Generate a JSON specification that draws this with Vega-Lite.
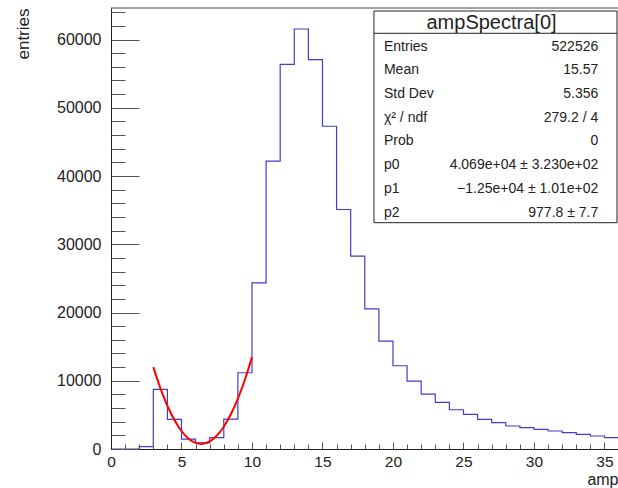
{
  "$schema": "https://vega.github.io/schema/vega-lite/v6.json",
  "width": 507,
  "height": 441,
  "autosize": {"type": "none"},
  "padding": {"left": 111, "top": 8, "right": 0, "bottom": 39},
  "background": "white",
  "view": {"stroke": null},
  "config": {"font": "Liberation Sans", "text": {"font": "Liberation Sans"}},
  "datasets": {
    "hist": [
      {"amp": 0, "entries": 0}, {"amp": 1, "entries": 0}, {"amp": 2, "entries": 350},
      {"amp": 3, "entries": 8741}, {"amp": 4, "entries": 4348}, {"amp": 5, "entries": 1440},
      {"amp": 6, "entries": 900}, {"amp": 7, "entries": 1654}, {"amp": 8, "entries": 4392},
      {"amp": 9, "entries": 11171}, {"amp": 10, "entries": 24348}, {"amp": 11, "entries": 42167},
      {"amp": 12, "entries": 56369}, {"amp": 13, "entries": 61540}, {"amp": 14, "entries": 57057},
      {"amp": 15, "entries": 47291}, {"amp": 16, "entries": 35095}, {"amp": 17, "entries": 28258},
      {"amp": 18, "entries": 20542}, {"amp": 19, "entries": 15813}, {"amp": 20, "entries": 12196},
      {"amp": 21, "entries": 9956}, {"amp": 22, "entries": 8053}, {"amp": 23, "entries": 6837},
      {"amp": 24, "entries": 5754}, {"amp": 25, "entries": 5081}, {"amp": 26, "entries": 4348},
      {"amp": 27, "entries": 3851}, {"amp": 28, "entries": 3367}, {"amp": 29, "entries": 3119},
      {"amp": 30, "entries": 2884}, {"amp": 31, "entries": 2635}, {"amp": 32, "entries": 2387},
      {"amp": 33, "entries": 2152}, {"amp": 34, "entries": 1903}, {"amp": 35, "entries": 1654},
      {"amp": 36, "entries": 1500}
    ],
    "fit": [
      {"amp": 3, "f": 11990}, {"amp": 3.5, "f": 8918}, {"amp": 4, "f": 6335}, {"amp": 4.5, "f": 4240},
      {"amp": 5, "f": 2635}, {"amp": 5.5, "f": 1518}, {"amp": 6, "f": 891}, {"amp": 6.5, "f": 752},
      {"amp": 7, "f": 1102}, {"amp": 7.5, "f": 1941}, {"amp": 8, "f": 3269}, {"amp": 8.5, "f": 5086},
      {"amp": 9, "f": 7392}, {"amp": 9.5, "f": 10186}, {"amp": 10, "f": 13470}
    ],
    "stats": [
      {"i": 1, "label": "Entries", "value": "522526"},
      {"i": 2, "label": "Mean", "value": "15.57"},
      {"i": 3, "label": "Std Dev", "value": "5.356"},
      {"i": 4, "label": "χ² / ndf", "value": "279.2 / 4"},
      {"i": 5, "label": "Prob", "value": "0"},
      {"i": 6, "label": "p0", "value": "4.069e+04 ± 3.230e+02"},
      {"i": 7, "label": "p1", "value": "−1.25e+04 ± 1.01e+02"},
      {"i": 8, "label": "p2", "value": "977.8 ± 7.7"}
    ]
  },
  "resolve": {"scale": {"y": "independent"}, "axis": {"x": "independent", "y": "independent"}},
  "layer": [
    {
      "data": {"name": "hist"},
      "mark": {"type": "line", "interpolate": "step-after", "color": "#3f3fcc", "strokeWidth": 1.2, "clip": true},
      "encoding": {
        "x": {"field": "amp", "type": "quantitative",
          "scale": {"domain": [0, 35.96], "nice": false, "zero": false},
          "axis": {"orient": "bottom", "values": [0, 5, 10, 15, 20, 25, 30, 35], "tickSize": -7, "tickColor": "#555",
            "domainColor": "#222", "labelFontSize": 15.5, "labelColor": "#222", "labelBaseline": "alphabetic",
            "labelPadding": 24.5, "labelFlush": false, "labelOverlap": false, "grid": false,
            "title": "amp", "titleFontSize": 16, "titleFontWeight": "normal", "titleColor": "#222",
            "titleAlign": "right", "titleAnchor": "end", "titleX": 507, "titleY": 35.6, "titleBaseline": "alphabetic", "zindex": 1}},
        "y": {"field": "entries", "type": "quantitative",
          "scale": {"domain": [0, 64617], "nice": false},
          "axis": {"orient": "left", "values": [0, 10000, 20000, 30000, 40000, 50000, 60000], "format": "d",
            "tickSize": -28, "tickColor": "#555", "domainColor": "#222", "labelFontSize": 16, "labelColor": "#222",
            "labelPadding": 38, "labelFlush": false, "labelOverlap": false, "grid": false,
            "title": "entries", "titleFontSize": 17, "titleFontWeight": "normal", "titleColor": "#222",
            "titleAngle": 270, "titleAlign": "right", "titleAnchor": "end", "titleX": -83, "titleY": 0, "titleBaseline": "alphabetic", "zindex": 1}}
      }
    },
    {
      "data": {"name": "fit"},
      "mark": {"type": "line", "interpolate": "natural", "color": "#ff0000", "strokeWidth": 2},
      "encoding": {
        "x": {"field": "amp", "type": "quantitative",
          "scale": {"domain": [0, 35.96], "nice": false, "zero": false},
          "axis": {"orient": "bottom", "values": [1,2,3,4,6,7,8,9,11,12,13,14,16,17,18,19,21,22,23,24,26,27,28,29,31,32,33,34],
            "tickSize": -5, "tickColor": "#555", "labels": false, "domain": false, "grid": false, "title": null, "zindex": 1}},
        "y": {"field": "f", "type": "quantitative",
          "scale": {"domain": [0, 64617], "nice": false},
          "axis": {"orient": "left", "values": [2000,4000,6000,8000,12000,14000,16000,18000,22000,24000,26000,28000,32000,34000,36000,38000,42000,44000,46000,48000,52000,54000,56000,58000,62000,64000],
            "tickSize": -14, "tickColor": "#555", "labels": false, "domain": false, "grid": false, "title": null, "zindex": 1}}
      }
    },
    {
      "data": {"values": [{"frame": "top"}]},
      "mark": {"type": "rule", "color": "#444", "strokeWidth": 1},
      "encoding": {
        "x": {"datum": 0, "type": "quantitative", "axis": null},
        "x2": {"datum": 35.96},
        "y": {"datum": 64617, "type": "quantitative", "scale": {"domain": [0, 64617], "nice": false}, "axis": null}
      }
    },
    {
      "data": {"values": [{"box": "stats"}]},
      "mark": {"type": "rect", "fill": "white", "stroke": "#222", "strokeWidth": 1},
      "encoding": {
        "x": {"datum": 18.65, "type": "quantitative", "axis": null},
        "x2": {"datum": 35.89},
        "y": {"datum": -0.506, "type": "quantitative", "scale": {"domain": [-0.633, 17.975], "nice": false, "zero": false, "reverse": true}, "axis": null},
        "y2": {"datum": 8.426}
      }
    },
    {
      "data": {"values": [{"box": "separator"}]},
      "mark": {"type": "rule", "color": "#222", "strokeWidth": 1},
      "encoding": {
        "x": {"datum": 18.65, "type": "quantitative", "axis": null},
        "x2": {"datum": 35.89},
        "y": {"datum": 0.434, "type": "quantitative", "scale": {"domain": [-0.633, 17.975], "nice": false, "zero": false, "reverse": true}, "axis": null}
      }
    },
    {
      "data": {"values": [{"i": 0, "title": "ampSpectra[0]"}]},
      "mark": {"type": "text", "fontSize": 20, "align": "center", "baseline": "middle", "color": "#222"},
      "encoding": {
        "x": {"datum": 26.99, "type": "quantitative", "axis": null},
        "y": {"field": "i", "type": "quantitative", "scale": {"domain": [-0.633, 17.975], "nice": false, "zero": false, "reverse": true}, "axis": null},
        "text": {"field": "title"}
      }
    },
    {
      "data": {"name": "stats"},
      "mark": {"type": "text", "fontSize": 14, "align": "left", "baseline": "middle", "color": "#222"},
      "encoding": {
        "x": {"datum": 19.36, "type": "quantitative", "axis": null},
        "y": {"field": "i", "type": "quantitative", "scale": {"domain": [-0.633, 17.975], "nice": false, "zero": false, "reverse": true}, "axis": null},
        "text": {"field": "label"}
      }
    },
    {
      "data": {"name": "stats"},
      "mark": {"type": "text", "fontSize": 14, "align": "right", "baseline": "middle", "color": "#222"},
      "encoding": {
        "x": {"datum": 34.56, "type": "quantitative", "axis": null},
        "y": {"field": "i", "type": "quantitative", "scale": {"domain": [-0.633, 17.975], "nice": false, "zero": false, "reverse": true}, "axis": null},
        "text": {"field": "value"}
      }
    }
  ]
}
